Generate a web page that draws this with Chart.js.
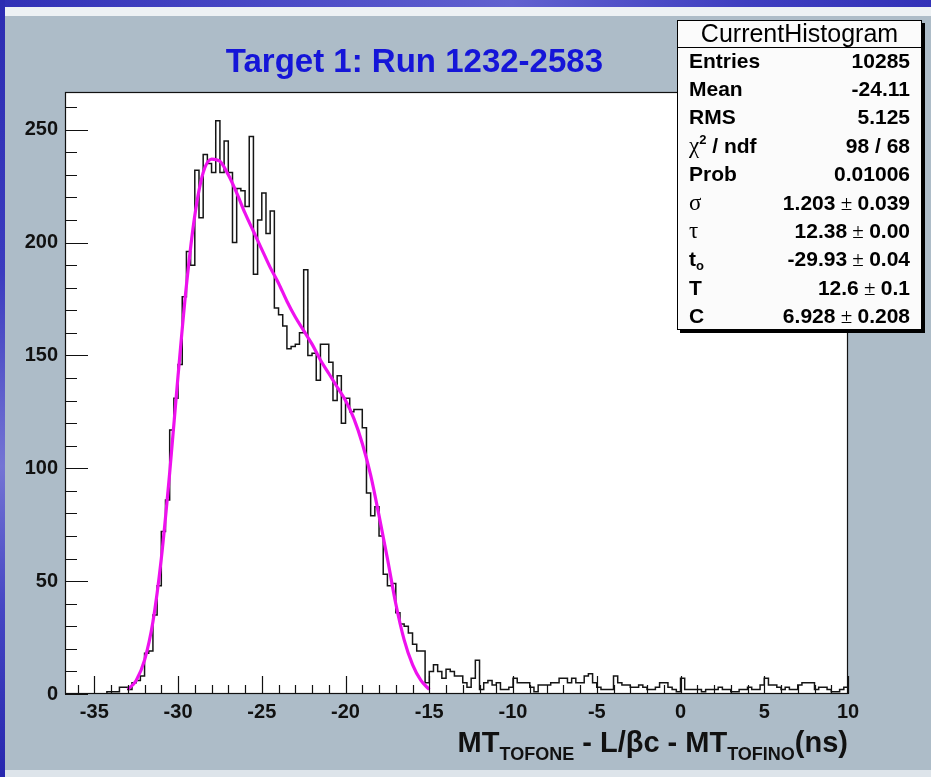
<!DOCTYPE html>
<html>
<head>
<meta charset="utf-8">
<title>Target 1: Run 1232-2583</title>
<script src="https://cdn.jsdelivr.net/npm/chart.js@4.4.1/dist/chart.umd.min.js"></script>
<style>
  html, body { margin: 0; padding: 0; background: #adbcc8; overflow: hidden; }
  canvas { display: block; }
</style>
</head>
<body>
<canvas id="c" width="931" height="777"></canvas>
<script>
// Histogram binning: 187 bins of 0.25 ns from -36.75 to 10 ns
const histLow = -36.75;
const histHigh = 10;
const binWidth = 0.25;

// Bin contents, left to right
const counts = [
  0, 0, 0, 0, 0, 0, 0, 0, 0, 0,
  1, 1, 1, 3, 3, 2, 5, 6, 8, 18,
  19, 35, 48, 72, 86, 117, 131, 146, 176, 196,
  190, 232, 211, 239, 235, 231, 254, 231, 245, 231,
  200, 224, 223, 216, 247, 186, 210, 222, 204, 214,
  171, 168, 163, 153, 154, 155, 160, 188, 150, 151,
  139, 155, 155, 147, 130, 141, 120, 131, 125, 126,
  126, 118, 89, 79, 83, 70, 53, 48, 49, 36,
  31, 30, 27, 22, 19, 19, 5, 10, 13, 10,
  7, 11, 10, 8, 8, 5, 3, 7, 15, 2,
  5, 6, 4, 5, 2, 2, 3, 7, 5, 5,
  5, 3, 1, 4, 4, 4, 5, 5, 7, 7,
  5, 7, 5, 5, 8, 9, 5, 3, 2, 2,
  2, 8, 5, 4, 4, 3, 3, 4, 3, 2,
  2, 3, 5, 5, 3, 2, 1, 7, 2, 2,
  2, 2, 1, 2, 2, 2, 3, 2, 2, 1,
  1, 2, 2, 3, 2, 2, 4, 7, 4, 4,
  3, 2, 3, 2, 2, 4, 5, 5, 5, 2,
  3, 3, 2, 1, 1, 2, 3
];

// Fitted curve over the fit range [-33, -15] ns
const fitX = [
  -33, -32.5, -32, -31.5, -31, -30.5, -30, -29.5, -29, -28.5,
  -28, -27.5, -27, -26.5, -26, -25.5, -25, -24.5, -24, -23.5,
  -23, -22.5, -22, -21.5, -21, -20.5, -20, -19.5, -19, -18.5,
  -18, -17.5, -17, -16.5, -16, -15.5, -15
];
const fitY = [
  2, 6, 15, 32, 60, 98, 141, 181, 212, 231,
  237, 236, 230, 222, 213, 205, 197, 189, 182, 174,
  167, 161, 155, 148, 142, 136, 130, 122, 111, 97,
  79, 60, 40, 24, 13, 6, 2
];

// Axis labelling
const xTickValues = [-35, -30, -25, -20, -15, -10, -5, 0, 5, 10];
const yTickValues = [0, 50, 100, 150, 200, 250];
const yMax = 266.7;

// Statistics box
const statNames = ['Entries', 'Mean', 'RMS', 'χ2 / ndf', 'Prob', 'σ', 'τ', 't0', 'T', 'C'];
const statValues = ['10285', '-24.11', '5.125', '98 / 68', '0.01006',
  '1.203 ± 0.039', '12.38 ± 0.00', '-29.93 ± 0.04', '12.6 ± 0.1', '6.928 ± 0.208'];

const plotTitle = 'Target 1: Run 1232-2583';

const SANS = '"Liberation Sans", Arial, Helvetica, sans-serif';
const SERIF = '"Liberation Serif", "Times New Roman", serif';

Chart.defaults.font.family = SANS;

const histPoints = counts.map((c, i) => ({ x: histLow + i * binWidth, y: c }));
histPoints.push({ x: histHigh, y: counts[counts.length - 1] });
const fitPoints = fitX.map((x, i) => ({ x, y: fitY[i] }));

// Draw a sequence of differently styled text runs on one baseline
function drawRuns(ctx, parts, x, y, align) {
  let total = 0;
  for (const p of parts) { ctx.font = p.f; p.w = ctx.measureText(p.t).width; total += p.w; }
  let cx = align === 'right' ? x - total : (align === 'center' ? x - total / 2 : x);
  for (const p of parts) {
    ctx.font = p.f;
    ctx.fillText(p.t, cx, y + (p.dy || 0));
    cx += p.w;
  }
}

// Slide background, canvas pad and white frame
const backdrop = {
  id: 'backdrop',
  beforeDraw(chart) {
    const { ctx, width, height, chartArea: a } = chart;
    ctx.save();
    const side = ctx.createLinearGradient(0, 0, 0, height);
    side.addColorStop(0, '#2c2cb2');
    side.addColorStop(0.35, '#3b3bbf');
    side.addColorStop(0.6, '#7474d4');
    side.addColorStop(0.78, '#4646c4');
    side.addColorStop(1, '#2626ae');
    ctx.fillStyle = side;
    ctx.fillRect(0, 0, width, height);
    const top = ctx.createLinearGradient(0, 0, width, 0);
    top.addColorStop(0, '#3030b6');
    top.addColorStop(0.3, '#4a4ac6');
    top.addColorStop(0.55, '#6161cf');
    top.addColorStop(0.8, '#3e3ec0');
    top.addColorStop(1, '#3232b8');
    ctx.fillStyle = top;
    ctx.fillRect(5, 0, width - 5, 7);
    ctx.fillStyle = '#edf1f4';
    ctx.fillRect(5, 7, width - 5, 9);
    ctx.fillStyle = '#adbcc8';
    ctx.fillRect(5, 16, width - 5, 754);
    ctx.fillStyle = '#dde4ea';
    ctx.fillRect(5, 770, width - 5, 7);
    ctx.fillStyle = '#ffffff';
    ctx.fillRect(a.left, a.top, a.right - a.left, a.bottom - a.top);
    ctx.restore();
  }
};

// Frame, inward tick marks, titles and the statistics box
const decorations = {
  id: 'decorations',
  afterDraw(chart) {
    const { ctx, chartArea: a, scales: { x, y } } = chart;
    ctx.save();
    ctx.strokeStyle = '#111';
    ctx.lineWidth = 1.2;
    ctx.strokeRect(a.left + 0.5, a.top + 0.5, a.right - a.left - 1, a.bottom - a.top - 1);

    ctx.beginPath();
    for (let v = 0; v <= yMax; v += 10) {
      const py = Math.round(y.getPixelForValue(v)) + 0.5;
      const len = v % 50 === 0 ? 23 : 12;
      ctx.moveTo(a.left, py);
      ctx.lineTo(a.left + len, py);
    }
    for (let v = Math.ceil(histLow); v <= histHigh; v += 1) {
      const px = Math.round(x.getPixelForValue(v)) + 0.5;
      const len = v % 5 === 0 ? 18 : 9;
      ctx.moveTo(px, a.bottom);
      ctx.lineTo(px, a.bottom - len);
    }
    ctx.stroke();

    // Plot title
    ctx.fillStyle = '#1515d8';
    ctx.textBaseline = 'alphabetic';
    ctx.textAlign = 'left';
    drawRuns(ctx, [{ t: plotTitle, f: `bold 33px ${SANS}` }], 603, 72, 'right');

    // X axis title
    ctx.fillStyle = '#111';
    const big = `bold 29px ${SANS}`;
    const sub = `bold 18px ${SANS}`;
    drawRuns(ctx, [
      { t: 'MT', f: big },
      { t: 'TOFONE', f: sub, dy: 8 },
      { t: ' - L/', f: big },
      { t: 'β', f: big },
      { t: 'c - MT', f: big },
      { t: 'TOFINO', f: sub, dy: 8 },
      { t: '(ns)', f: big }
    ], a.right, 752, 'right');

    // Statistics box
    const bL = 677, bT = 20, bR = 922, bB = 330, hB = 47;
    ctx.fillStyle = '#000';
    ctx.fillRect(bL + 3, bT + 3, bR - bL, bB - bT);
    ctx.fillStyle = '#fbfbfb';
    ctx.fillRect(bL, bT, bR - bL, bB - bT);
    ctx.strokeStyle = '#000';
    ctx.lineWidth = 1;
    ctx.strokeRect(bL + 0.5, bT + 0.5, bR - bL - 1, bB - bT - 1);
    ctx.beginPath();
    ctx.moveTo(bL, hB + 0.5);
    ctx.lineTo(bR, hB + 0.5);
    ctx.stroke();

    ctx.fillStyle = '#000';
    drawRuns(ctx, [{ t: 'CurrentHistogram', f: `25px ${SANS}` }], (bL + bR) / 2, 42, 'center');

    const B = `bold 21px ${SANS}`;
    const small = `bold 13px ${SANS}`;
    const greek = `23px ${SERIF}`;
    statNames.forEach((name, i) => {
      const base = 60 + i * 28.4 + 7.5;
      let parts;
      if (name === 'χ2 / ndf') {
        parts = [{ t: 'χ', f: greek }, { t: '2', f: small, dy: -9 }, { t: ' / ndf', f: B }];
      } else if (name === 'σ' || name === 'τ') {
        parts = [{ t: name, f: greek }];
      } else if (name === 't0') {
        parts = [{ t: 't', f: B }, { t: 'o', f: small, dy: 4 }];
      } else {
        parts = [{ t: name, f: B }];
      }
      drawRuns(ctx, parts, 689, base, 'left');

      const val = statValues[i];
      let vparts;
      if (val.includes('±')) {
        const [v1, v2] = val.split(' ± ');
        vparts = [{ t: v1, f: B }, { t: ' ± ', f: `21px ${SERIF}` }, { t: v2, f: B }];
      } else {
        vparts = [{ t: val, f: B }];
      }
      drawRuns(ctx, vparts, 910, base, 'right');
    });
    ctx.restore();
  }
};

new Chart(document.getElementById('c'), {
  type: 'line',
  data: {
    datasets: [
      {
        label: 'fit',
        data: fitPoints,
        borderColor: '#ee11ee',
        borderWidth: 3.2,
        pointRadius: 0,
        fill: false,
        cubicInterpolationMode: 'monotone'
      },
      {
        label: 'CurrentHistogram',
        data: histPoints,
        borderColor: '#151515',
        borderWidth: 1.5,
        pointRadius: 0,
        fill: false,
        stepped: true
      }
    ]
  },
  options: {
    responsive: false,
    animation: false,
    devicePixelRatio: 1,
    layout: { padding: { top: 92, right: 83, left: 0, bottom: 0 } },
    plugins: { legend: { display: false }, tooltip: { enabled: false }, title: { display: false } },
    scales: {
      x: {
        type: 'linear',
        min: histLow,
        max: histHigh,
        grid: { display: false, drawTicks: false },
        border: { display: false },
        afterFit(s) { s.height = 83; },
        afterBuildTicks(s) { s.ticks = xTickValues.map(v => ({ value: v })); },
        ticks: {
          autoSkip: false,
          maxRotation: 0,
          padding: 6,
          color: '#111',
          font: { size: 20, weight: 'bold' },
          callback: v => String(v)
        }
      },
      y: {
        type: 'linear',
        min: 0,
        max: yMax,
        grid: { display: false, drawTicks: false },
        border: { display: false },
        afterFit(s) { s.width = 65; },
        afterBuildTicks(s) { s.ticks = yTickValues.map(v => ({ value: v })); },
        ticks: {
          autoSkip: false,
          padding: 7,
          color: '#111',
          font: { size: 20, weight: 'bold' },
          callback: v => String(v)
        }
      }
    }
  },
  plugins: [backdrop, decorations]
});
</script>
</body>
</html>
